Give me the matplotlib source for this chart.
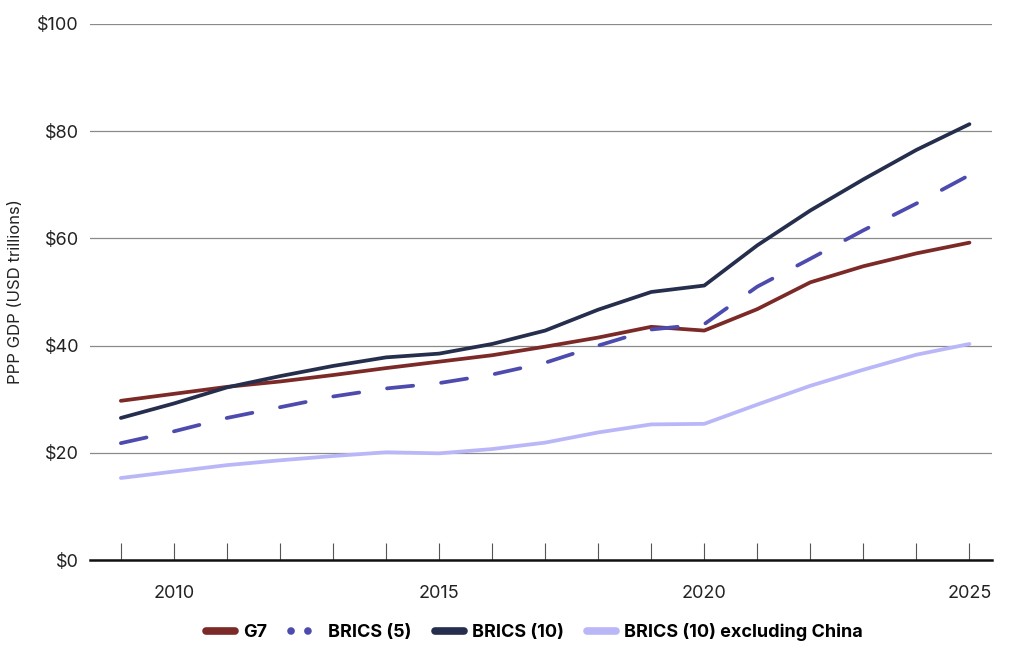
import numpy as np
import matplotlib.pyplot as plt
from matplotlib.ticker import MultipleLocator, FuncFormatter

years = list(range(2009, 2026))

g7 = [29.7, 31.0, 32.3, 33.3, 34.5, 35.8, 37.0, 38.2, 39.8, 41.5, 43.5, 42.8,
      46.8, 51.8, 54.8, 57.2, 59.2]
brics5 = [21.8, 24.0, 26.5, 28.5, 30.5, 32.0, 33.0, 34.6, 36.8, 40.0, 43.0, 44.0,
          51.0, 56.2, 61.5, 66.5, 71.8]
brics10 = [26.5, 29.2, 32.2, 34.3, 36.2, 37.8, 38.5, 40.3, 42.8, 46.7, 50.0, 51.2,
           58.7, 65.2, 71.0, 76.5, 81.3]
brics10_ex_china = [15.3, 16.5, 17.7, 18.6, 19.4, 20.1, 19.9, 20.7, 21.9, 23.8, 25.3, 25.4,
                    29.0, 32.5, 35.5, 38.3, 40.3]

plt.rcParams['font.family'] = ['Inter', 'DejaVu Sans']

fig = plt.figure(figsize=(10.24, 6.57), dpi=100)
ax = fig.add_axes([0.088, 0.1476, 0.881, 0.816])

lw = 2.7
ax.plot(years, g7, color='#7B2A27', lw=lw, solid_capstyle='round', label='G7', zorder=3)
ax.plot(years, brics5, color='#4E4BAE', lw=lw, ls=(0, (7, 7.5)), dash_capstyle='round',
        label='BRICS (5)', zorder=3)
ax.plot(years, brics10, color='#262E4D', lw=lw, solid_capstyle='round', label='BRICS (10)', zorder=3)
ax.plot(years, brics10_ex_china, color='#B9B7F7', lw=lw, solid_capstyle='round',
        label='BRICS (10) excluding China', zorder=3)

ax.set_xlim(2008.42, 2025.43)
ax.set_ylim(0, 100)
ax.yaxis.set_major_locator(MultipleLocator(20))
ax.yaxis.set_major_formatter(FuncFormatter(lambda v, p: f'${v:.0f}'))
ax.xaxis.set_major_locator(MultipleLocator(5))
ax.xaxis.set_minor_locator(MultipleLocator(1))
ax.grid(axis='y', color='#8a8a8a', lw=0.9, zorder=1)

for s in ['top', 'right', 'left']:
    ax.spines[s].set_visible(False)
ax.spines['bottom'].set_color('#111111')
ax.spines['bottom'].set_linewidth(1.8)
ax.spines['bottom'].set_zorder(4)

ax.tick_params(axis='y', length=0, labelsize=13, pad=8, labelcolor='#222222')
ax.tick_params(axis='x', which='both', direction='in', length=12, width=0.8,
               color='#555555', labelsize=13, pad=18, labelcolor='#222222')

ax.set_ylabel('PPP GDP (USD trillions)', fontsize=12, labelpad=10, color='#222222')

leg = fig.legend(loc='center', bbox_to_anchor=(0.522, 0.038), ncol=4, frameon=False,
                 prop={'weight': 'bold', 'size': 13}, handlelength=1.6, handletextpad=0.45,
                 columnspacing=1.3)
for i, line in enumerate(leg.get_lines()):
    line.set_linewidth(5.5)
    line.set_solid_capstyle('round')
    if i == 1:
        line.set_linestyle((0, (0.01, 2.2)))
        line.set_dash_capstyle('round')

fig.savefig('out.png', dpi=100)
